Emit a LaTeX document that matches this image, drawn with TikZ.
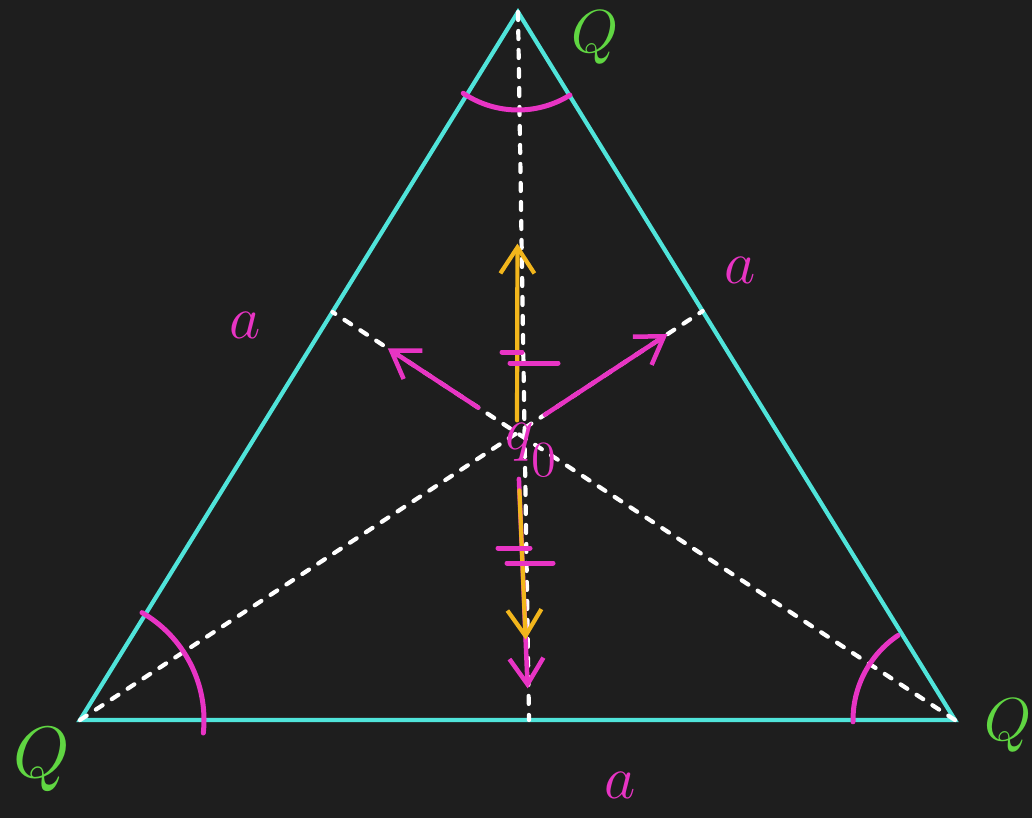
\documentclass[tikz,border=0pt]{standalone}
\usepackage{tikz}
\usetikzlibrary{arrows.meta,calc}
\definecolor{board}{RGB}{30,30,30}
\definecolor{tri}{RGB}{80,228,218}
\definecolor{pinkish}{RGB}{232,52,196}
\definecolor{gold}{RGB}{242,182,28}
\definecolor{grn}{RGB}{96,214,66}

\begin{document}
\begin{tikzpicture}[x=0.1mm,y=0.1mm,
    side/.style={draw=tri, line width=0.42mm},
    median/.style={draw=white, line width=0.42mm, dash pattern=on 0.8mm off 1.1mm, line cap=round},
    force/.style={draw=pinkish, line width=0.45mm, line cap=round, -{Straight Barb[length=2.6mm,width=3.4mm]}},
    field/.style={draw=gold, line width=0.42mm, line cap=round, -{Straight Barb[length=2.6mm,width=3.4mm]}},
    anglearc/.style={draw=pinkish, line width=0.5mm, line cap=round},
    tickmark/.style={draw=pinkish, line width=0.5mm, line cap=round},
    charge/.style={text=grn, font=\fontsize{17}{20}\selectfont},
    len/.style={text=pinkish, font=\fontsize{19}{22}\selectfont}]
            % Background
            \useasboundingbox (0,0) rectangle (1032,818);
            \fill[board] (0,0) rectangle (1032,818);
            \clip (0,0) rectangle (1032,818);

            % Corners, centre and feet of the medians
            \coordinate (A) at (518,806);
            \coordinate (B) at (80,98);
            \coordinate (C) at (955,98);
            \coordinate (O) at (517,385);
            \coordinate (fAB) at (intersection of C--O and A--B);
            \coordinate (fAC) at (intersection of B--O and A--C);
            \coordinate (fBC) at (529,98);

            % Draw triangle and medians
            \draw[side] (A) -- (B) -- (C) -- cycle;
            \draw[median] (A) -- (fBC);
            \draw[median] (B) -- (fAC);
            \draw[median] (C) -- (fAB);

            % Angle arcs
            \draw[anglearc] (A) ++(236:98) arc (236:302:98);
            \draw[anglearc] (B) ++(60:124) arc (60:-6:124);
            \draw[anglearc] (C) ++(124:102) arc (124:181:102);

            % Forces on the middle charge
            \draw[force] ($(O)!0.21!(fAB)$) -- ($(O)!0.70!(fAB)$);
            \draw[force] ($(O)!0.15!(fAC)$) -- ($(O)!0.81!(fAC)$);
            \draw[force] ($(O)!0.16!(fBC)$) -- ($(O)!0.89!(fBC)$);
            \draw[field] ($(O)!0.03!(A)$) -- ($(O)!0.45!(A)$);
            \draw[field] ($(O)!0.20!(fBC)$) -- ($(O)!0.72!(fBC)$);

            % Equal marks
            \draw[tickmark] (502,466) -- (522,466) (510,455) -- (558,455);
            \draw[tickmark] (498,270) -- (530,270) (507,255) -- (553,255);

            % Labels
            \node[charge] (qA) at (595,780) {$Q$};
            \node[charge, font=\fontsize{22}{26}\selectfont] (qB) at (42,58) {$Q$};
            \node[charge, font=\fontsize{18}{22}\selectfont] (qC) at (1008,92) {$Q$};
            \node[len] (aAB) at (245,493) {$a$};
            \node[len] (aAC) at (740,548) {$a$};
            \node[len] (aBC) at (620,33) {$a$};
            \node[len] (q0) at (532,368) {$q_{\lower5pt\hbox{$\scriptstyle 0$}}$};
          \end{tikzpicture}
\end{document}
